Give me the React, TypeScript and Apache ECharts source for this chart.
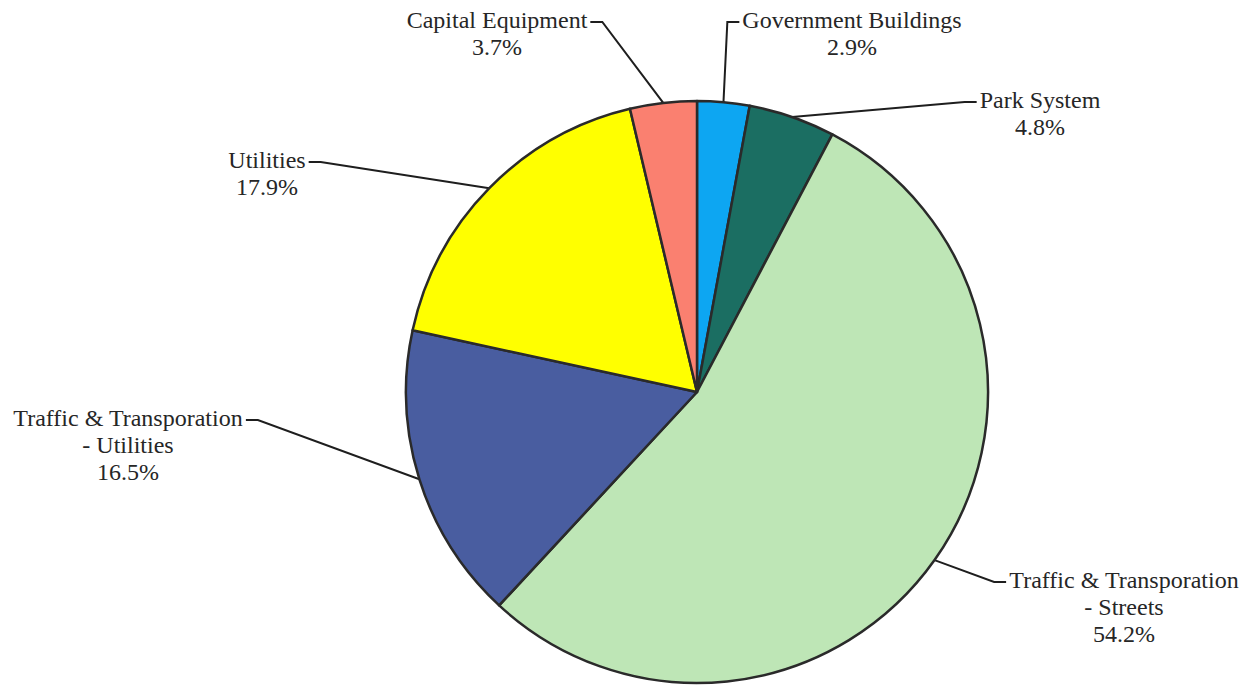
import React, { useEffect, useRef } from "react";
import * as echarts from "echarts";

const categories: string[] = [
  "Government Buildings",
  "Park System",
  "Traffic & Transporation\n- Streets",
  "Traffic & Transporation\n- Utilities",
  "Utilities",
  "Capital Equipment",
];
const shares: number[] = [2.9, 4.8, 54.2, 16.5, 17.9, 3.7];
const sliceColors: string[] = ["#0DA6F2", "#1B6E62", "#BEE6B6", "#495DA0", "#FFFF00", "#FA8070"];

// label placement (center x, first-line center y, side where leader line attaches)
const labelPlacement: { x: number; y: number; side: "left" | "right" }[] = [
  { x: 852, y: 20, side: "left" },
  { x: 1040, y: 100, side: "left" },
  { x: 1124, y: 580, side: "left" },
  { x: 128, y: 418, side: "right" },
  { x: 267, y: 160, side: "right" },
  { x: 497, y: 20, side: "right" },
];

const LINE_H = 27;

export default function App() {
  const ref = useRef<HTMLDivElement>(null);
  useEffect(() => {
    if (!ref.current) return;
    const chart = echarts.init(ref.current, null, { renderer: "svg" });
    chart.setOption({
      animation: false,
      backgroundColor: "#ffffff",
      series: [
        {
          type: "pie",
          center: [697, 392],
          radius: 291,
          startAngle: 90,
          clockwise: true,
          avoidLabelOverlap: false,
          data: categories.map((name, i) => ({
            name,
            value: shares[i],
            itemStyle: { color: sliceColors[i] },
          })),
          itemStyle: { borderColor: "#2a2a2a", borderWidth: 2.5 },
          label: {
            show: true,
            position: "outside",
            color: "#262626",
            fontFamily: "Liberation Serif",
            fontSize: 24,
            lineHeight: LINE_H,
            align: "center",
            formatter: (p: any) => `${p.name}\n${Number(p.value).toFixed(1)}%`,
          },
          labelLine: {
            show: true,
            length: 20,
            length2: 10,
            lineStyle: { color: "#1e1e1e", width: 2 },
          },
          labelLayout: (params: any) => {
            const pl = labelPlacement[params.dataIndex];
            const w = params.labelRect.width;
            const edgeX = pl.side === "left" ? pl.x - w / 2 - 3 : pl.x + w / 2 + 3;
            const elbowX = pl.side === "left" ? edgeX - 12 : edgeX + 12;
            const a = params.labelLinePoints ? params.labelLinePoints[0] : [edgeX, pl.y];
            return {
              x: pl.x,
              y: pl.y - LINE_H / 2,
              align: "center",
              verticalAlign: "top",
              labelLinePoints: [
                [a[0], a[1]],
                [elbowX, pl.y + 2],
                [edgeX, pl.y + 2],
              ],
            };
          },
        },
      ],
    });
    return () => chart.dispose();
  }, []);
  return (
    <div
      ref={ref}
      style={{ position: "fixed", left: 0, top: 0, width: 1251, height: 685, background: "#fff" }}
    />
  );
}
